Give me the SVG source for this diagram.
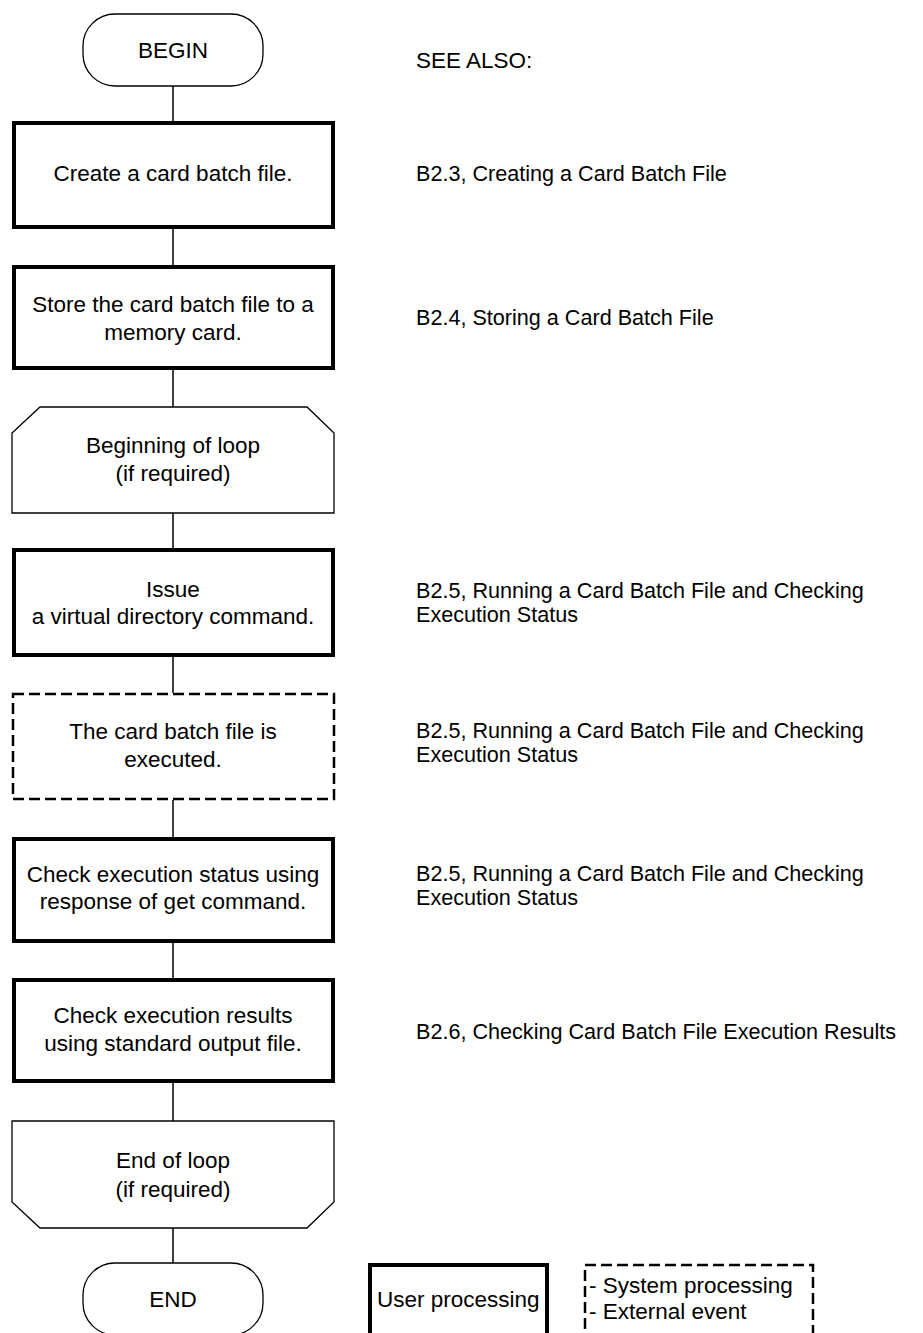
<svg xmlns="http://www.w3.org/2000/svg" width="923" height="1333" viewBox="0 0 923 1333">
  <style>
    text { font-family: "Liberation Sans", Arial, sans-serif; font-size: 22.5px; fill: #000; }
    .c { text-anchor: middle; }
    .ref { font-size: 21.6px; }
    .user { fill: #fff; stroke: #000; stroke-width: 4; }
    .sys { fill: #fff; stroke: #000; stroke-width: 2.5; stroke-dasharray: 11 5; }
    .thin { fill: #fff; stroke: #000; stroke-width: 1.3; }
    .link { stroke: #000; stroke-width: 1.5; fill: none; }
  </style>
  <rect width="923" height="1333" fill="#fff"/>

  <!-- connectors along the main flow -->
  <g id="connectors">
    <line class="link" x1="173" y1="86" x2="173" y2="122"/>
    <line class="link" x1="173" y1="228" x2="173" y2="265"/>
    <line class="link" x1="173" y1="370" x2="173" y2="407"/>
    <line class="link" x1="173" y1="513" x2="173" y2="548"/>
    <line class="link" x1="173" y1="657" x2="173" y2="693"/>
    <line class="link" x1="173" y1="800" x2="173" y2="837"/>
    <line class="link" x1="173" y1="943" x2="173" y2="978"/>
    <line class="link" x1="173" y1="1083" x2="173" y2="1121"/>
    <line class="link" x1="173" y1="1228" x2="173" y2="1263"/>
  </g>

  <g id="begin">
    <rect class="thin" x="83" y="14" width="180" height="72" rx="32" ry="32"/>
    <text class="c" x="173" y="58">BEGIN</text>
  </g>

  <g id="create">
    <rect class="user" x="14" y="123" width="319" height="104"/>
    <text class="c" x="173" y="181">Create a card batch file.</text>
  </g>

  <g id="store">
    <rect class="user" x="14" y="267" width="319" height="101"/>
    <text class="c" x="173" y="312">Store the card batch file to a</text>
    <text class="c" x="173" y="340">memory card.</text>
  </g>

  <g id="loop-begin">
    <polygon class="thin" points="40,407 307,407 334,433 334,513 12,513 12,433"/>
    <text class="c" x="173" y="453">Beginning of loop</text>
    <text class="c" x="173" y="481">(if required)</text>
  </g>

  <g id="issue">
    <rect class="user" x="14" y="550" width="319" height="105"/>
    <text class="c" x="173" y="597">Issue</text>
    <text class="c" x="173" y="624">a virtual directory command.</text>
  </g>

  <g id="executed">
    <rect class="sys" x="13" y="694" width="321" height="105"/>
    <text class="c" x="173" y="739">The card batch file is</text>
    <text class="c" x="173" y="767">executed.</text>
  </g>

  <g id="check-status">
    <rect class="user" x="14" y="839" width="319" height="102"/>
    <text class="c" x="173" y="882">Check execution status using</text>
    <text class="c" x="173" y="909">response of get command.</text>
  </g>

  <g id="check-results">
    <rect class="user" x="14" y="980" width="319" height="101"/>
    <text class="c" x="173" y="1023">Check execution results</text>
    <text class="c" x="173" y="1051">using standard output file.</text>
  </g>

  <g id="loop-end">
    <polygon class="thin" points="12,1121 334,1121 334,1202 307,1228 40,1228 12,1202"/>
    <text class="c" x="173" y="1168">End of loop</text>
    <text class="c" x="173" y="1197">(if required)</text>
  </g>

  <g id="end">
    <rect class="thin" x="83" y="1263" width="180" height="72" rx="32" ry="32"/>
    <text class="c" x="173" y="1307">END</text>
  </g>

  <!-- cross references -->
  <g id="see-also">
    <text x="416" y="68">SEE ALSO:</text>
    <text class="ref" x="416" y="181">B2.3, Creating a Card Batch File</text>
    <text class="ref" x="416" y="325">B2.4, Storing a Card Batch File</text>
    <text class="ref" x="416" y="598">B2.5, Running a Card Batch File and Checking</text>
    <text class="ref" x="416" y="622">Execution Status</text>
    <text class="ref" x="416" y="738">B2.5, Running a Card Batch File and Checking</text>
    <text class="ref" x="416" y="762">Execution Status</text>
    <text class="ref" x="416" y="881">B2.5, Running a Card Batch File and Checking</text>
    <text class="ref" x="416" y="905">Execution Status</text>
    <text class="ref" x="416" y="1039">B2.6, Checking Card Batch File Execution Results</text>
  </g>

  <!-- legend -->
  <g id="legend-user">
    <rect class="user" x="370" y="1265" width="177" height="100"/>
    <text x="377" y="1307">User processing</text>
  </g>
  <g id="legend-system">
    <rect class="sys" x="585" y="1265" width="228" height="100"/>
    <text x="589" y="1293">- System processing</text>
    <text x="589" y="1319">- External event</text>
  </g>
</svg>
